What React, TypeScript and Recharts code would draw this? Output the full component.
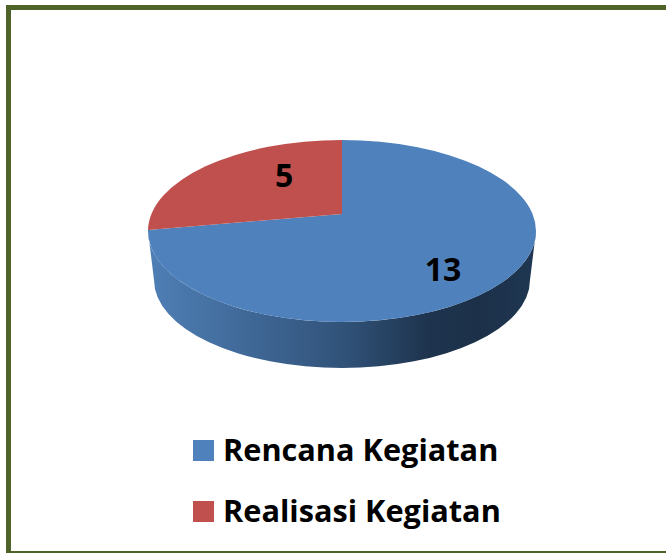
import { Cell, Legend, Pie, PieChart } from "recharts";

const names = ["Rencana Kegiatan", "Realisasi Kegiatan"];
const values = [13, 5];
const colors = ["#4f81bd", "#c0504d"];

const data = names.map((name, i) => ({ name, value: values[i] }));

const FONT = "'Open Sans', sans-serif";
const RX = 194; // top disc radius, horizontal
const RY = 91; // top disc radius, vertical
const ELLIPSE_SHIFT = 17; // pie centre sits above the middle of the disc (perspective)
const DEPTH = 49;
const RX_BOTTOM = 188;
const RY_BOTTOM = 88;

const RAD = Math.PI / 180;

// where a ray from the apex hits the tilted disc edge
function rimPoint(cx: number, cy: number, angle: number) {
  const dx = Math.cos(angle * RAD) * RX;
  const dy = -Math.sin(angle * RAD) * RY;
  const a = (dx * dx) / (RX * RX) + (dy * dy) / (RY * RY);
  const b = (-2 * ELLIPSE_SHIFT * dy) / (RY * RY);
  const c = (ELLIPSE_SHIFT * ELLIPSE_SHIFT) / (RY * RY) - 1;
  const t = (-b + Math.sqrt(b * b - 4 * a * c)) / (2 * a);
  return { x: cx + dx * t, y: cy + dy * t };
}

function Slice3D(props: any) {
  const { cx, cy, startAngle, endAngle, fill } = props;
  const p1 = rimPoint(cx, cy, startAngle);
  const p2 = rimPoint(cx, cy, endAngle);
  const large = Math.abs(startAngle - endAngle) > 180 ? 1 : 0;
  const midY = cy + ELLIPSE_SHIFT;
  // only the slice running through the front gets a visible wall
  const hasWall = startAngle >= -90 && endAngle <= -90;
  const bottomY = midY + DEPTH;
  return (
    <g>
      {hasWall && (
        <>
          <defs>
            <linearGradient id="wall" x1="0" y1="0" x2="1" y2="0">
              <stop offset="0%" stopColor="#4f7fb6" />
              <stop offset="50%" stopColor="#31537a" />
              <stop offset="72%" stopColor="#1e344e" />
              <stop offset="85%" stopColor="#1c3049" />
              <stop offset="100%" stopColor="#1f3752" />
            </linearGradient>
          </defs>
          <path
            d={`M${cx - RX},${midY} A${RX},${RY} 0 0 0 ${cx + RX},${midY} L${cx + RX_BOTTOM},${bottomY} A${RX_BOTTOM},${RY_BOTTOM} 0 0 1 ${cx - RX_BOTTOM},${bottomY} Z`}
            fill="url(#wall)"
          />
        </>
      )}
      <path
        d={`M${cx},${cy} L${p1.x},${p1.y} A${RX},${RY} 0 ${large} 1 ${p2.x},${p2.y} Z`}
        fill={fill}
      />
    </g>
  );
}

// label placement factors, one per slice
const labelFx = [0.68, 0.39];
const labelFy = [0.94, 0.68];

function sliceLabel(props: any) {
  const { cx, cy, midAngle, index, value } = props;
  const x = cx + Math.cos(midAngle * RAD) * RX * labelFx[index];
  const y = cy - Math.sin(midAngle * RAD) * RY * labelFy[index];
  return (
    <text x={x} y={y} textAnchor="middle" dominantBaseline="central" fontFamily={FONT} fontWeight={700} fontSize={32} fill="#000">
      {value}
    </text>
  );
}

function LegendList(props: any) {
  const items = props.payload || [];
  return (
    <div>
      {items.map((item: any) => (
        <div key={item.value} style={{ display: "flex", alignItems: "center", height: 61 }}>
          <span style={{ width: 21, height: 21, background: item.color, marginRight: 9 }} />
          <span style={{ position: "relative", top: -2, fontFamily: FONT, fontWeight: 700, fontSize: 30.7, color: "#000", whiteSpace: "nowrap" }}>{item.value}</span>
        </div>
      ))}
    </div>
  );
}

export default function App() {
  return (
    <div style={{ position: "absolute", left: 0, top: 0, width: 666, height: 553, background: "#fff", overflow: "hidden" }}>
      <div
        style={{
          position: "absolute",
          left: 6,
          top: 5,
          width: 660,
          height: 548,
          boxSizing: "border-box",
          borderLeft: "5px solid #4f6228",
          borderTop: "5px solid #4f6228",
          borderBottom: "2px solid #4f6228",
        }}
      />
      <div style={{ position: "absolute", left: 0, top: 0 }}>
        <PieChart width={666} height={553} margin={{ top: 0, right: 0, bottom: 0, left: 0 }}>
          <Pie
            data={data}
            dataKey="value"
            nameKey="name"
            cx={342}
            cy={214}
            innerRadius={0}
            outerRadius={RX}
            startAngle={90}
            endAngle={-270}
            stroke="none"
            shape={Slice3D}
            label={sliceLabel}
            labelLine={false}
            isAnimationActive={false}
          >
            {data.map((d, i) => (
              <Cell key={d.name} fill={colors[i]} />
            ))}
          </Pie>
          <Legend itemSorter={null} content={LegendList} wrapperStyle={{ position: "absolute", left: 193, top: 420, width: 400 }} />
        </PieChart>
      </div>
    </div>
  );
}
